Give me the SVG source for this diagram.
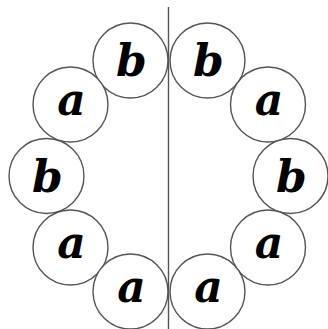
<svg xmlns="http://www.w3.org/2000/svg" width="328" height="329" viewBox="0 0 328 329">
<style>
.n circle{fill:#fff;stroke:#555;stroke-width:1.4}
.n text{font-family:"DejaVu Serif",serif;font-weight:bold;font-style:italic;font-size:44px;text-anchor:middle;fill:#000}
</style>
<rect width="328" height="329" fill="#fff"/>
<g id="connectors">
<line x1="168.5" y1="7" x2="168.5" y2="329" stroke="#555" stroke-width="1.4"/>
</g>
<g id="nL1" class="n"><circle cx="130.5" cy="60.5" r="37.5"/><text x="131.5" y="76">b</text></g>
<g id="nL2" class="n"><circle cx="70.5" cy="104.5" r="37.5"/><text x="71.5" y="115">a</text></g>
<g id="nL3" class="n"><circle cx="46.5" cy="176" r="37.5"/><text x="47.5" y="192">b</text></g>
<g id="nL4" class="n"><circle cx="70.5" cy="247.5" r="37.5"/><text x="71.5" y="258">a</text></g>
<g id="nL5" class="n"><circle cx="130.5" cy="291.5" r="37.5"/><text x="131.5" y="302">a</text></g>
<g id="nR1" class="n"><circle cx="207.5" cy="60.5" r="37.5"/><text x="208.5" y="76">b</text></g>
<g id="nR2" class="n"><circle cx="268" cy="104.5" r="37.5"/><text x="269" y="115">a</text></g>
<g id="nR3" class="n"><circle cx="290.5" cy="176" r="37.5"/><text x="291.5" y="192">b</text></g>
<g id="nR4" class="n"><circle cx="268" cy="247.5" r="37.5"/><text x="269" y="258">a</text></g>
<g id="nR5" class="n"><circle cx="207.5" cy="291.5" r="37.5"/><text x="208.5" y="302">a</text></g>
</svg>
